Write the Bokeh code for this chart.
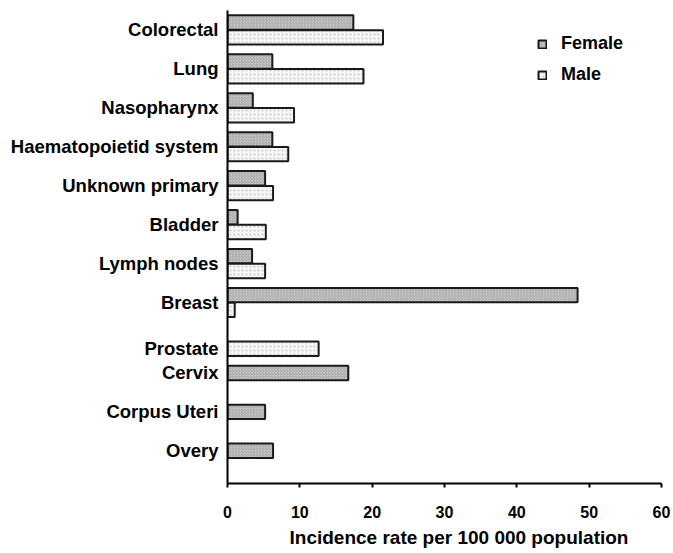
from bokeh.plotting import figure
from bokeh.models import Range1d, FixedTicker, Legend, LegendItem, ColumnDataSource, Title
from bokeh.embed import file_html
from bokeh.resources import INLINE

categories = ["Colorectal", "Lung", "Nasopharynx", "Haematopoietid system",
              "Unknown primary", "Bladder", "Lymph nodes", "Breast",
              "Prostate", "Cervix", "Corpus Uteri", "Overy"]
female = [17.4, 6.2, 3.5, 6.2, 5.2, 1.4, 3.4, 48.4, None, 16.7, 5.2, 6.3]
male = [21.5, 18.8, 9.2, 8.4, 6.3, 5.3, 5.2, 1.0, 12.6, None, None, None]
x_ticks = [0, 10, 20, 30, 40, 50, 60]
x_title = "Incidence rate per 100 000 population"

OFF = 0.19
H = 0.37
FONT = "Liberation Sans"

f_y, f_x, m_y, m_x, label_pos = [], [], [], [], []
for i, (fv, mv) in enumerate(zip(female, male)):
    if fv is not None:
        f_y.append(i - OFF); f_x.append(fv)
    if mv is not None:
        m_y.append(i + OFF); m_x.append(mv)
    if fv is not None and mv is not None:
        label_pos.append(i)
    elif fv is not None:
        label_pos.append(i - OFF)
    else:
        label_pos.append(i + OFF)

p = figure(width=673, height=553, output_backend="svg", toolbar_location=None,
           x_range=Range1d(0, 60), y_range=Range1d(11.65, -0.5),
           min_border_left=227, min_border_right=12, min_border_top=10,
           min_border_bottom=70)
p.outline_line_color = None
p.xgrid.visible = False
p.ygrid.visible = False

fsrc = ColumnDataSource(dict(y=f_y, right=f_x))
msrc = ColumnDataSource(dict(y=m_y, right=m_x))
rf = p.hbar(y="y", right="right", left=0, height=H, source=fsrc,
            fill_color="#c8c8c8", line_color="#1a1a1a", line_width=2,
            hatch_pattern="/", hatch_color="#939393", hatch_scale=3, hatch_weight=0.6)
rm = p.hbar(y="y", right="right", left=0, height=H, source=msrc,
            fill_color="#f6f6f6", line_color="#1a1a1a", line_width=2,
            hatch_pattern=".", hatch_color="#cacaca", hatch_scale=4, hatch_weight=1)

# x axis
xa = p.xaxis[0]
xa.ticker = FixedTicker(ticks=x_ticks)
xa.axis_line_width = 2
xa.axis_line_color = "black"
xa.major_tick_line_color = "black"
xa.major_tick_line_width = 2
xa.major_tick_out = 4
xa.major_tick_in = 0
xa.minor_tick_line_color = None
xa.major_label_text_font = FONT
xa.major_label_text_font_style = "bold"
xa.major_label_text_font_size = "16px"
xa.major_label_text_color = "black"
xa.major_label_standoff = 18

title = Title(text=x_title, align="left", offset=62, standoff=8,
              text_font=FONT, text_font_style="bold", text_font_size="19px",
              text_color="black")
p.add_layout(title, "below")

# y axis
ya = p.yaxis[0]
ya.ticker = FixedTicker(ticks=label_pos)
ya.major_label_overrides = {lp: c for lp, c in zip(label_pos, categories)}
ya.axis_line_width = 2
ya.axis_line_color = "black"
ya.major_tick_line_color = None
ya.minor_tick_line_color = None
ya.major_tick_out = 0
ya.major_tick_in = 0
ya.major_label_text_font = FONT
ya.major_label_text_font_style = "bold"
ya.major_label_text_font_size = "18.5px"
ya.major_label_text_color = "black"
ya.major_label_standoff = 9

legend = Legend(items=[LegendItem(label="Female", renderers=[rf]),
                       LegendItem(label="Male", renderers=[rm])],
                location=(310, 398), padding=0, margin=0, spacing=10,
                glyph_width=10, glyph_height=10, label_height=20,
                label_standoff=14, border_line_color=None,
                background_fill_alpha=0)
legend.label_text_font = FONT
legend.label_text_font_style = "bold"
legend.label_text_font_size = "18px"
legend.label_text_color = "black"
p.add_layout(legend)

open("out.html", "w").write(file_html(p, INLINE))
